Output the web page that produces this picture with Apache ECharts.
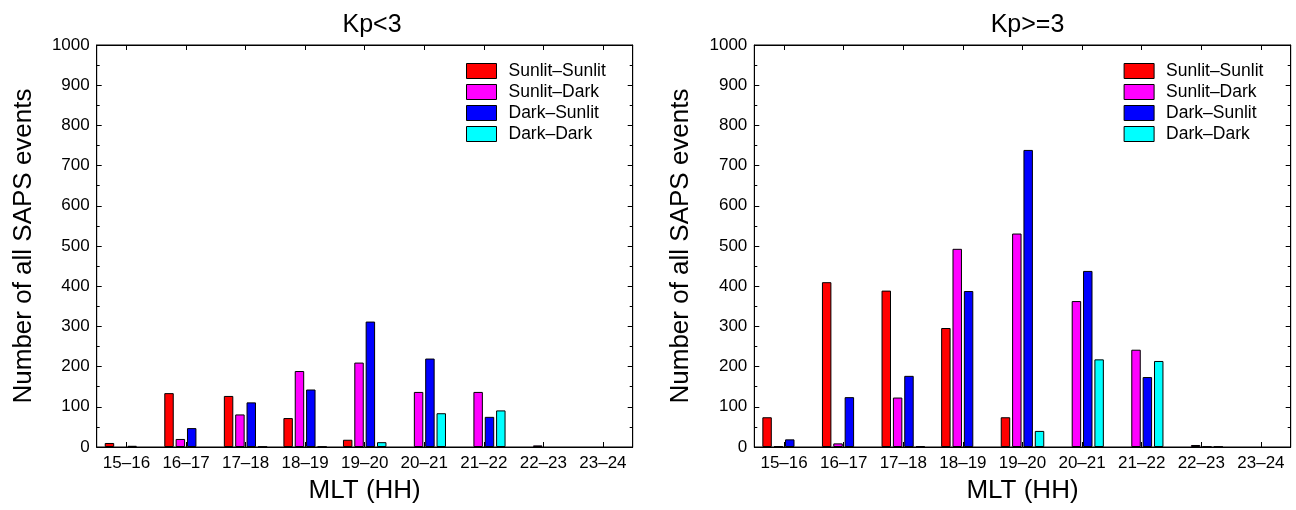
<!DOCTYPE html>
<html>
<head>
<meta charset="utf-8">
<script src="https://cdn.jsdelivr.net/npm/echarts@6/dist/echarts.min.js"></script>
<style>
html,body{margin:0;padding:0;background:#fff;}
#c{width:1296px;height:510px;}
</style>
</head>
<body>
<div id="c"></div>
<script>
// ---- data ----
var categories = ['15–16','16–17','17–18','18–19','19–20','20–21','21–22','22–23','23–24'];
var seriesNames = ['Sunlit–Sunlit','Sunlit–Dark','Dark–Sunlit','Dark–Dark'];
var panelTitles = ['Kp<3','Kp>=3'];
var yTicks = [0,100,200,300,400,500,600,700,800,900,1000];

// Kp<3
var lowSunlitSunlit = [10,134,127,72,18,0,0,0,0];
var lowSunlitDark   = [0,20,81,189,210,137,137,4,0];
var lowDarkSunlit   = [3,47,111,143,312,220,75,0,0];
var lowDarkDark     = [0,0,1,1,12,84,91,0,0];
// Kp>=3
var highSunlitSunlit = [74,410,389,296,74,0,0,0,0];
var highSunlitDark   = [2,9,123,493,531,363,242,5,0];
var highDarkSunlit   = [19,124,177,388,739,438,174,1,0];
var highDarkDark     = [0,0,2,0,40,218,214,1,0];

var colors = ['#ff0000','#ff00ff','#0000ff','#00ffff'];
var FONT = 'Liberation Sans, Arial, Helvetica, sans-serif';

var chart = echarts.init(document.getElementById('c'), null, {renderer:'canvas'});

var grids = [
  {left:96.7, right:1296-632.7, top:45, bottom:510-447, show:true, borderColor:'#000', borderWidth:1, backgroundColor:'#fff'},
  {left:754.3, right:1296-1290.7, top:45, bottom:510-447, show:true, borderColor:'#000', borderWidth:1, backgroundColor:'#fff'}
];

function xBottom(g){
  return {
    type:'category', gridIndex:g, data:categories, position:'bottom', boundaryGap:true,
    axisLine:{show:true, onZero:false, lineStyle:{color:'#000', width:1}},
    axisTick:{show:true, inside:true, alignWithLabel:true, length:5, lineStyle:{color:'#000'}},
    axisLabel:{show:true, color:'#000', fontFamily:FONT, fontSize:17, margin:8, interval:0},
    splitLine:{show:false},
    name:'MLT (HH)', nameLocation:'middle', nameGap:31,
    nameTextStyle:{color:'#000', fontFamily:FONT, fontSize:26}
  };
}
function xTop(g){
  return {
    type:'category', gridIndex:g, data:categories, position:'top', boundaryGap:true,
    axisLine:{show:true, onZero:false, lineStyle:{color:'#000', width:1}},
    axisTick:{show:true, inside:true, alignWithLabel:true, length:5, lineStyle:{color:'#000'}},
    axisLabel:{show:false}, splitLine:{show:false}
  };
}
function yLeft(g){
  return {
    type:'value', gridIndex:g, min:yTicks[0], max:yTicks[yTicks.length-1], interval:100, position:'left',
    axisLine:{show:true, lineStyle:{color:'#000', width:1}},
    axisTick:{show:true, inside:true, length:5, lineStyle:{color:'#000'}},
    minorTick:{show:true, splitNumber:2, length:3, lineStyle:{color:'#000'}},
    axisLabel:{show:true, color:'#000', fontFamily:FONT, fontSize:17, margin:7, formatter:function(v){return String(v);}},
    splitLine:{show:false},
    name:'Number of all SAPS events', nameLocation:'middle', nameGap:60,
    nameTextStyle:{color:'#000', fontFamily:FONT, fontSize:26}
  };
}
function yRight(g){
  return {
    type:'value', gridIndex:g, min:yTicks[0], max:yTicks[yTicks.length-1], interval:100, position:'right',
    axisLine:{show:true, lineStyle:{color:'#000', width:1}},
    axisTick:{show:true, inside:true, length:5, lineStyle:{color:'#000'}},
    minorTick:{show:true, splitNumber:2, length:3, lineStyle:{color:'#000'}},
    axisLabel:{show:false}, splitLine:{show:false}
  };
}

var panelData = [
  [lowSunlitSunlit, lowSunlitDark, lowDarkSunlit, lowDarkDark],
  [highSunlitSunlit, highSunlitDark, highDarkSunlit, highDarkDark]
];

var series = [];
for (var p = 0; p < 2; p++) {
  for (var s = 0; s < 4; s++) {
    series.push({
      type:'bar', name:seriesNames[s],
      xAxisIndex:p*2, yAxisIndex:p*2,
      data:panelData[p][s].map(function(v){ return v === 0 ? '-' : v; }),
      barGap:'20%', barCategoryGap:'27%',
      itemStyle:{color:colors[s], borderColor:'#000', borderWidth:1},
      emphasis:{disabled:true},
      animation:false
    });
  }
}

function legendAt(left){
  return {
    show:true, orient:'vertical', left:left, top:57, padding:5,
    itemWidth:30, itemHeight:15, itemGap:3, icon:'rect',
    selectedMode:false,
    itemStyle:{borderColor:'#000', borderWidth:1},
    textStyle:{color:'#000', fontFamily:FONT, fontSize:17.5, lineHeight:17, padding:[0,0,0,7]},
    data:seriesNames.map(function(n,i){return {name:n, itemStyle:{color:colors[i], borderColor:'#000', borderWidth:1}};})
  };
}

chart.setOption({
  backgroundColor:'#fff',
  animation:false,
  title:[
    {text:panelTitles[0], left:367, top:8, textAlign:'center', textStyle:{color:'#000', fontFamily:FONT, fontSize:25, fontWeight:'normal'}},
    {text:panelTitles[1], left:1022.5, top:8, textAlign:'center', textStyle:{color:'#000', fontFamily:FONT, fontSize:25, fontWeight:'normal'}}
  ],
  grid:grids,
  xAxis:[xBottom(0), xTop(0), xBottom(1), xTop(1)],
  yAxis:[yLeft(0), yRight(0), yLeft(1), yRight(1)],
  legend:[legendAt(461), legendAt(1118.6)],
  series:series
});
</script>
</body>
</html>
